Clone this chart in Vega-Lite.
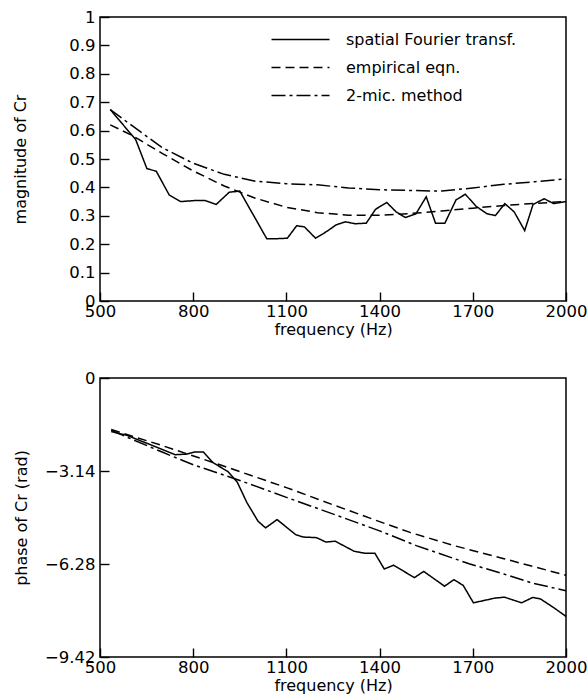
{
  "$schema": "https://vega.github.io/schema/vega-lite/v6.json",
  "background": "white",
  "padding": {"left": 12, "top": 8, "right": 22, "bottom": 3},
  "spacing": 30,
  "config": {
    "font": "DejaVu Sans",
    "view": {"stroke": "black", "strokeWidth": 1.5},
    "axis": {
      "domain": false, "grid": false, "ticks": true, "tickSize": 9, "offset": -9, "tickColor": "black", "tickWidth": 1.4,
      "labelColor": "black", "labelFontSize": 16.5, "labelFont": "DejaVu Sans", "labelOverlap": false,
      "titleColor": "black", "titleFontSize": 16, "titleFontWeight": "normal", "titleFont": "DejaVu Sans"
    },
    "line": {"color": "black", "strokeWidth": 1.5}
  },
  "datasets": {
    "mag": [
      {"f": 533, "v": 0.674, "m": "spatial Fourier transf."},
      {"f": 615, "v": 0.568, "m": "spatial Fourier transf."},
      {"f": 651, "v": 0.466, "m": "spatial Fourier transf."},
      {"f": 681, "v": 0.457, "m": "spatial Fourier transf."},
      {"f": 723, "v": 0.373, "m": "spatial Fourier transf."},
      {"f": 759, "v": 0.350, "m": "spatial Fourier transf."},
      {"f": 808, "v": 0.354, "m": "spatial Fourier transf."},
      {"f": 838, "v": 0.354, "m": "spatial Fourier transf."},
      {"f": 874, "v": 0.340, "m": "spatial Fourier transf."},
      {"f": 916, "v": 0.383, "m": "spatial Fourier transf."},
      {"f": 950, "v": 0.387, "m": "spatial Fourier transf."},
      {"f": 1037, "v": 0.219, "m": "spatial Fourier transf."},
      {"f": 1061, "v": 0.219, "m": "spatial Fourier transf."},
      {"f": 1103, "v": 0.221, "m": "spatial Fourier transf."},
      {"f": 1133, "v": 0.265, "m": "spatial Fourier transf."},
      {"f": 1158, "v": 0.261, "m": "spatial Fourier transf."},
      {"f": 1194, "v": 0.221, "m": "spatial Fourier transf."},
      {"f": 1230, "v": 0.245, "m": "spatial Fourier transf."},
      {"f": 1260, "v": 0.268, "m": "spatial Fourier transf."},
      {"f": 1290, "v": 0.279, "m": "spatial Fourier transf."},
      {"f": 1321, "v": 0.272, "m": "spatial Fourier transf."},
      {"f": 1357, "v": 0.274, "m": "spatial Fourier transf."},
      {"f": 1387, "v": 0.323, "m": "spatial Fourier transf."},
      {"f": 1423, "v": 0.347, "m": "spatial Fourier transf."},
      {"f": 1453, "v": 0.314, "m": "spatial Fourier transf."},
      {"f": 1483, "v": 0.294, "m": "spatial Fourier transf."},
      {"f": 1517, "v": 0.307, "m": "spatial Fourier transf."},
      {"f": 1550, "v": 0.367, "m": "spatial Fourier transf."},
      {"f": 1580, "v": 0.274, "m": "spatial Fourier transf."},
      {"f": 1610, "v": 0.274, "m": "spatial Fourier transf."},
      {"f": 1646, "v": 0.356, "m": "spatial Fourier transf."},
      {"f": 1676, "v": 0.376, "m": "spatial Fourier transf."},
      {"f": 1710, "v": 0.334, "m": "spatial Fourier transf."},
      {"f": 1746, "v": 0.307, "m": "spatial Fourier transf."},
      {"f": 1773, "v": 0.301, "m": "spatial Fourier transf."},
      {"f": 1803, "v": 0.343, "m": "spatial Fourier transf."},
      {"f": 1833, "v": 0.314, "m": "spatial Fourier transf."},
      {"f": 1867, "v": 0.248, "m": "spatial Fourier transf."},
      {"f": 1894, "v": 0.340, "m": "spatial Fourier transf."},
      {"f": 1930, "v": 0.360, "m": "spatial Fourier transf."},
      {"f": 1960, "v": 0.343, "m": "spatial Fourier transf."},
      {"f": 2000, "v": 0.350, "m": "spatial Fourier transf."},
      {"f": 533, "v": 0.620, "m": "empirical eqn."},
      {"f": 600, "v": 0.585, "m": "empirical eqn."},
      {"f": 700, "v": 0.520, "m": "empirical eqn."},
      {"f": 800, "v": 0.458, "m": "empirical eqn."},
      {"f": 900, "v": 0.405, "m": "empirical eqn."},
      {"f": 1000, "v": 0.362, "m": "empirical eqn."},
      {"f": 1100, "v": 0.330, "m": "empirical eqn."},
      {"f": 1200, "v": 0.311, "m": "empirical eqn."},
      {"f": 1300, "v": 0.302, "m": "empirical eqn."},
      {"f": 1400, "v": 0.302, "m": "empirical eqn."},
      {"f": 1500, "v": 0.308, "m": "empirical eqn."},
      {"f": 1600, "v": 0.317, "m": "empirical eqn."},
      {"f": 1700, "v": 0.327, "m": "empirical eqn."},
      {"f": 1800, "v": 0.336, "m": "empirical eqn."},
      {"f": 1900, "v": 0.344, "m": "empirical eqn."},
      {"f": 2000, "v": 0.350, "m": "empirical eqn."},
      {"f": 533, "v": 0.674, "m": "2-mic. method"},
      {"f": 600, "v": 0.620, "m": "2-mic. method"},
      {"f": 700, "v": 0.540, "m": "2-mic. method"},
      {"f": 800, "v": 0.485, "m": "2-mic. method"},
      {"f": 900, "v": 0.446, "m": "2-mic. method"},
      {"f": 1000, "v": 0.422, "m": "2-mic. method"},
      {"f": 1100, "v": 0.413, "m": "2-mic. method"},
      {"f": 1200, "v": 0.409, "m": "2-mic. method"},
      {"f": 1300, "v": 0.398, "m": "2-mic. method"},
      {"f": 1400, "v": 0.392, "m": "2-mic. method"},
      {"f": 1500, "v": 0.389, "m": "2-mic. method"},
      {"f": 1600, "v": 0.387, "m": "2-mic. method"},
      {"f": 1700, "v": 0.398, "m": "2-mic. method"},
      {"f": 1800, "v": 0.411, "m": "2-mic. method"},
      {"f": 1900, "v": 0.420, "m": "2-mic. method"},
      {"f": 2000, "v": 0.430, "m": "2-mic. method"}
    ],
    "phase": [
      {"f": 536, "v": -1.81, "m": "spatial Fourier transf."},
      {"f": 585, "v": -1.93, "m": "spatial Fourier transf."},
      {"f": 657, "v": -2.23, "m": "spatial Fourier transf."},
      {"f": 742, "v": -2.59, "m": "spatial Fourier transf."},
      {"f": 779, "v": -2.57, "m": "spatial Fourier transf."},
      {"f": 803, "v": -2.50, "m": "spatial Fourier transf."},
      {"f": 833, "v": -2.50, "m": "spatial Fourier transf."},
      {"f": 864, "v": -2.86, "m": "spatial Fourier transf."},
      {"f": 912, "v": -3.16, "m": "spatial Fourier transf."},
      {"f": 942, "v": -3.52, "m": "spatial Fourier transf."},
      {"f": 973, "v": -4.21, "m": "spatial Fourier transf."},
      {"f": 1009, "v": -4.84, "m": "spatial Fourier transf."},
      {"f": 1033, "v": -5.06, "m": "spatial Fourier transf."},
      {"f": 1070, "v": -4.78, "m": "spatial Fourier transf."},
      {"f": 1130, "v": -5.29, "m": "spatial Fourier transf."},
      {"f": 1154, "v": -5.37, "m": "spatial Fourier transf."},
      {"f": 1197, "v": -5.39, "m": "spatial Fourier transf."},
      {"f": 1227, "v": -5.54, "m": "spatial Fourier transf."},
      {"f": 1257, "v": -5.51, "m": "spatial Fourier transf."},
      {"f": 1318, "v": -5.85, "m": "spatial Fourier transf."},
      {"f": 1354, "v": -5.92, "m": "spatial Fourier transf."},
      {"f": 1385, "v": -5.92, "m": "spatial Fourier transf."},
      {"f": 1415, "v": -6.45, "m": "spatial Fourier transf."},
      {"f": 1445, "v": -6.32, "m": "spatial Fourier transf."},
      {"f": 1512, "v": -6.74, "m": "spatial Fourier transf."},
      {"f": 1542, "v": -6.53, "m": "spatial Fourier transf."},
      {"f": 1609, "v": -7.03, "m": "spatial Fourier transf."},
      {"f": 1639, "v": -6.81, "m": "spatial Fourier transf."},
      {"f": 1669, "v": -7.00, "m": "spatial Fourier transf."},
      {"f": 1702, "v": -7.59, "m": "spatial Fourier transf."},
      {"f": 1772, "v": -7.43, "m": "spatial Fourier transf."},
      {"f": 1802, "v": -7.40, "m": "spatial Fourier transf."},
      {"f": 1857, "v": -7.59, "m": "spatial Fourier transf."},
      {"f": 1893, "v": -7.41, "m": "spatial Fourier transf."},
      {"f": 1918, "v": -7.46, "m": "spatial Fourier transf."},
      {"f": 1960, "v": -7.75, "m": "spatial Fourier transf."},
      {"f": 2000, "v": -8.05, "m": "spatial Fourier transf."},
      {"f": 536, "v": -1.74, "m": "empirical eqn."},
      {"f": 700, "v": -2.28, "m": "empirical eqn."},
      {"f": 900, "v": -2.98, "m": "empirical eqn."},
      {"f": 1100, "v": -3.70, "m": "empirical eqn."},
      {"f": 1250, "v": -4.28, "m": "empirical eqn."},
      {"f": 1400, "v": -4.85, "m": "empirical eqn."},
      {"f": 1500, "v": -5.22, "m": "empirical eqn."},
      {"f": 1640, "v": -5.66, "m": "empirical eqn."},
      {"f": 1800, "v": -6.10, "m": "empirical eqn."},
      {"f": 2000, "v": -6.66, "m": "empirical eqn."},
      {"f": 536, "v": -1.77, "m": "2-mic. method"},
      {"f": 700, "v": -2.50, "m": "2-mic. method"},
      {"f": 800, "v": -2.93, "m": "2-mic. method"},
      {"f": 948, "v": -3.45, "m": "2-mic. method"},
      {"f": 1100, "v": -4.03, "m": "2-mic. method"},
      {"f": 1215, "v": -4.46, "m": "2-mic. method"},
      {"f": 1400, "v": -5.16, "m": "2-mic. method"},
      {"f": 1518, "v": -5.66, "m": "2-mic. method"},
      {"f": 1688, "v": -6.27, "m": "2-mic. method"},
      {"f": 1800, "v": -6.62, "m": "2-mic. method"},
      {"f": 1893, "v": -6.93, "m": "2-mic. method"},
      {"f": 2000, "v": -7.18, "m": "2-mic. method"}
    ]
  },
  "resolve": {"scale": {"strokeDash": "independent"}, "legend": {"strokeDash": "independent"}},
  "vconcat": [
    {
      "width": 466, "height": 284,
      "data": {"name": "mag"},
      "mark": {"type": "line", "color": "black", "strokeWidth": 1.5},
      "encoding": {
        "x": {"field": "f", "type": "quantitative", "scale": {"domain": [500, 2000], "nice": false},
              "axis": {"values": [500, 800, 1100, 1400, 1700, 2000], "format": "d", "labelFlush": false, "labelPadding": 2, "title": "frequency (Hz)", "titlePadding": 2}},
        "y": {"field": "v", "type": "quantitative", "scale": {"domain": [0, 1], "nice": false},
              "axis": {"values": [0, 0.1, 0.2, 0.3, 0.4, 0.5, 0.6, 0.7, 0.8, 0.9, 1], "format": ".1~f", "labelPadding": 5, "title": "magnitude of Cr", "titlePadding": 40}},
        "strokeDash": {"field": "m", "type": "nominal",
          "scale": {"domain": ["spatial Fourier transf.", "empirical eqn.", "2-mic. method"], "range": [[1, 0], [9, 5], [14, 4, 3, 4]]},
          "legend": {"orient": "none", "legendX": 185, "legendY": 7, "title": null, "symbolType": "M-2,0H2", "symbolSize": 841,
                     "symbolStrokeColor": "black", "symbolStrokeWidth": 1.5, "labelFontSize": 16, "labelLimit": 400, "labelColor": "black", "labelFont": "DejaVu Sans", "labelOffset": 30, "rowPadding": 4}}
      }
    },
    {
      "width": 466, "height": 279,
      "data": {"name": "phase"},
      "mark": {"type": "line", "color": "black", "strokeWidth": 1.5},
      "encoding": {
        "x": {"field": "f", "type": "quantitative", "scale": {"domain": [500, 2000], "nice": false},
              "axis": {"values": [500, 800, 1100, 1400, 1700, 2000], "format": "d", "labelFlush": false, "labelPadding": 2, "title": "frequency (Hz)", "titlePadding": 2}},
        "y": {"field": "v", "type": "quantitative", "scale": {"domain": [-9.42, 0], "nice": false},
              "axis": {"values": [0, -3.14, -6.28, -9.42], "labelExpr": "datum.value == 0 ? '0' : format(datum.value, '.2f')", "labelPadding": 5, "title": "phase of Cr  (rad)", "titlePadding": 15}},
        "strokeDash": {"field": "m", "type": "nominal",
          "scale": {"domain": ["spatial Fourier transf.", "empirical eqn.", "2-mic. method"], "range": [[1, 0], [9, 5], [14, 4, 3, 4]]},
          "legend": null}
      }
    }
  ]
}
